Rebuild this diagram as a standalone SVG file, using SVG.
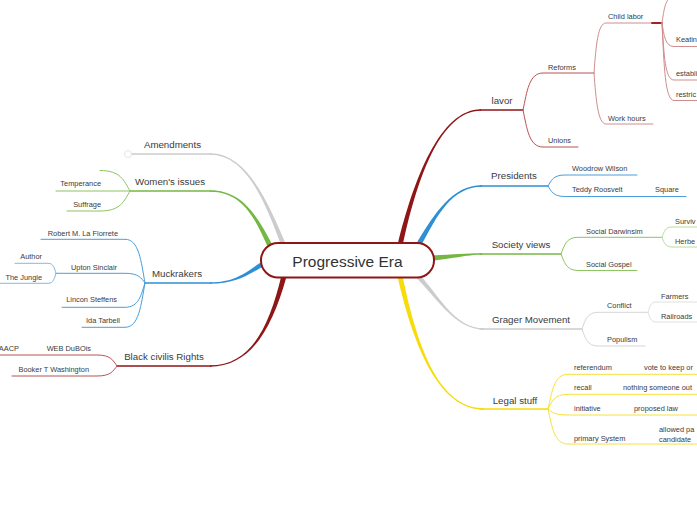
<svg xmlns="http://www.w3.org/2000/svg" width="697" height="520" viewBox="0 0 697 520">
<style>
text{font-family:"Liberation Sans","DejaVu Sans",sans-serif;fill:#3a3a3a}
.t1{font-size:9.7px;text-anchor:middle}
.t2{font-size:7.4px}
.e{text-anchor:end}
.c{fill:none;stroke-linecap:round}
.u1{stroke-width:1.4}
.u2{stroke-width:1}
.red1{stroke:#8e1616}.red2{stroke:#b85252}.red3{stroke:#cf8e8e}
.blue1{stroke:#2f8fd5}.blue2{stroke:#4a9edb}.blue3{stroke:#7db9e6}
.green1{stroke:#74b843}.green2{stroke:#8ec462}.green3{stroke:#b8dc9c}
.gray1{stroke:#cccccc}.gray2{stroke:#d6d6d6}.gray3{stroke:#e0e0e0}
.yel1{stroke:#f5dc0a}.yel2{stroke:#f7e03a}
</style>
<rect width="697" height="520" fill="#ffffff"/>
<g id="connectors">
  <!-- main tapered branches -->
  <path fill="#8e1616" d="M397.5,245.4 C413.5,179.7 440,109.3 481,109.3 L481,110.7 C440,110.7 416.5,180.3 402.5,246.6 Z"/>
  <path fill="#2f8fd5" d="M415.7,244.7 C434.7,213.3 452,185.3 482,185.3 L482,186.7 C452,186.7 437.3,214.7 420.3,247.3 Z"/>
  <path fill="#74b843" d="M432,255.4 C455,254.5 465,253.3 482,253.3 L482,254.7 C465,254.7 455,258.5 432,260.6 Z"/>
  <path fill="#cccccc" d="M419.8,274.4 C441,299 456,328.3 484,328.3 L484,329.7 C456,329.7 439,301 416.2,277.6 Z"/>
  <path fill="#f5dc0a" d="M402.5,275.5 C417.5,349.7 440,408.3 484,408.3 L484,409.7 C440,409.7 414.5,350.3 397.5,276.5 Z"/>
  <path fill="#cccccc" d="M286.2,245.1 C267.3,199.5 246,153.3 210,153.3 L210,154.7 C246,154.7 264.7,200.5 281.8,246.9 Z"/>
  <path fill="#74b843" d="M273.4,246.9 C257.4,215.4 242,190.3 210,190.3 L210,191.7 C242,191.7 254.6,216.6 268.6,249.1 Z"/>
  <path fill="#2f8fd5" d="M264.7,259.8 C245.2,272.7 236,282.3 210,282.3 L210,283.7 C236,283.7 246.8,275.3 267.3,264.2 Z"/>
  <path fill="#8e1616" d="M281.5,275.3 C268.5,329.6 250,365.3 210,365.3 L210,366.7 C250,366.7 271.5,330.4 286.5,276.7 Z"/>
  <!-- level-1 underlines -->
  <path class="c u1 red1" d="M480,110 L523,110"/>
  <path class="c u1 blue1" d="M480,186 L548,186"/>
  <path class="c u1 green1" d="M480,254 L561,254"/>
  <path class="c u1 gray1" d="M480,329 L582,329"/>
  <path class="c u1 yel1" d="M480,409 L548,409"/>
  <path class="c u1 gray1" d="M132,154 L211,154"/>
  <path class="c u1 green1" d="M130,191 L211,191"/>
  <path class="c u1 blue1" d="M145,283 L211,283"/>
  <path class="c u1 red1" d="M117,366 L211,366"/>
  <!-- lavor -->
  <path class="c u2 red2" d="M523,110 C527,91.5 529,73 543,73 L594,73"/>
  <path class="c u2 red2" d="M523,110 C527,128.5 529,147 543,147 L578,147"/>
  <path class="c u2 red3" d="M594,73 C596,45 598,23 606,23 L652,23"/>
  <path class="c u2 red3" d="M594,73 C596,100 598,124 606,124 L653,124"/>
  <path class="c" stroke="#a32222" stroke-width="1.8" d="M652,23 L662,23"/>
  <path class="c u2 red3" d="M662,23 C664,10 665,-3 674,-3 L697,-3"/>
  <path class="c u2 red3" d="M662,23 C664,35 665,46.5 674,46.5 L697,46.5"/>
  <path class="c u2 red3" d="M662,23 C664,55 665,80 674,80 L697,80"/>
  <path class="c u2 red3" d="M662,23 C664,65 665,100.5 674,100.5 L697,100.5"/>
  <!-- presidents -->
  <path class="c u2 blue2" d="M548,186 C551.4,180.5 553,175 565,175 L637,175"/>
  <path class="c u2 blue2" d="M548,186 C551.4,191.2 553,196.5 565,196.5 L686,196.5"/>
  <!-- society views -->
  <path class="c u2 green2" d="M561,254 C564.4,245.5 566,237.3 578,237.3 L662,237.3"/>
  <path class="c u2 green2" d="M561,254 C564.4,262 566,270.5 578,270.5 L637,270.5"/>
  <path class="c u2 green3" d="M662,237.3 C664,232 665,227 672,227 L697,227"/>
  <path class="c u2 green3" d="M662,237.3 C664,242 665,247 672,247 L697,247"/>
  <!-- grager -->
  <path class="c u2 gray2" d="M582,329 C585,320.5 587,312.3 598,312.3 L648,312.3"/>
  <path class="c u2 gray2" d="M582,329 C585,337.5 587,346 598,346 L645,346"/>
  <path class="c u2 gray3" d="M648,312.3 C649.6,307 650.5,302 656,302 L697,302"/>
  <path class="c u2 gray3" d="M648,312.3 C649.6,317 650.5,322 656,322 L697,322"/>
  <!-- legal stuff -->
  <path class="c u2 yel2" d="M548,409 C552,391.6 554,374.3 568,374.3 L697,374.3"/>
  <path class="c u2 yel2" d="M548,409 C552,401.6 554,394.3 568,394.3 L697,394.3"/>
  <path class="c u2 yel2" d="M548,409 C552,412 554,415 568,415 L697,415"/>
  <path class="c u2 yel2" d="M548,409 C552,426.5 554,444 568,444 L697,444"/>
  <!-- women's issues -->
  <path class="c u2 green2" d="M130,191 C124,180.7 121,170.5 100,170.5"/>
  <path class="c u2 green2" d="M130,191 L56,191"/>
  <path class="c u2 green2" d="M130,191 C124,201 121,211 100,211 L67,211"/>
  <!-- muckrakers -->
  <path class="c u2 blue2" d="M145,283 C141,261 139,239.3 125,239.3 L41,239.3"/>
  <path class="c u2 blue2" d="M145,283 C141,278 139,273.3 125,273.3 L56,273.3"/>
  <path class="c u2 blue2" d="M145,283 C141,295 139,307.3 125,307.3 L62,307.3"/>
  <path class="c u2 blue2" d="M145,283 C141,305 139,327.3 125,327.3 L82,327.3"/>
  <path class="c u2 blue3" d="M56,273.3 C54.4,268.3 53.6,263.3 48,263.3 L15,263.3"/>
  <path class="c u2 blue3" d="M56,273.3 C54.4,278.3 53.6,283.3 48,283.3 L0,283.3"/>
  <!-- black civilis rights -->
  <path class="c u2 red2" d="M117,366 C113,360.5 111,355 97,355 L0,355"/>
  <path class="c u2 red2" d="M117,366 C113,371 111,376 97,376 L12,376"/>
</g>
<g id="central">
  <rect x="261" y="243" width="173" height="34.5" rx="17" fill="#ffffff" stroke="#8e1616" stroke-width="2"/>
  <text x="347.5" y="267" style="font-size:15.5px;text-anchor:middle;fill:#333">Progressive Era</text>
</g>
<g id="lavor"><text class="t1" x="502" y="104">lavor</text></g>
<g id="reforms"><text class="t2" x="548" y="69.5">Reforms</text></g>
<g id="unions"><text class="t2" x="548" y="143">Unions</text></g>
<g id="child-labor"><text class="t2" x="608" y="19">Child labor</text></g>
<g id="work-hours"><text class="t2" x="608" y="120.5">Work hours</text></g>
<g id="keatin"><text class="t2" x="676" y="42">Keatin</text></g>
<g id="establi"><text class="t2" x="676" y="76">establi</text></g>
<g id="restric"><text class="t2" x="676" y="96.5">restric</text></g>
<g id="presidents"><text class="t1" x="514" y="179">Presidents</text></g>
<g id="woodrow"><text class="t2" x="572" y="171">Woodrow Wilson</text></g>
<g id="teddy"><text class="t2" x="572" y="192">Teddy Roosvelt</text></g>
<g id="square"><text class="t2" x="655" y="192">Square</text></g>
<g id="society"><text class="t1" x="521" y="247.5">Society views</text></g>
<g id="darwinism"><text class="t2" x="586" y="233.5">Social Darwinsim</text></g>
<g id="gospel"><text class="t2" x="586" y="267">Social Gospel</text></g>
<g id="surviv"><text class="t2" x="675" y="223.5">Surviv</text></g>
<g id="herbe"><text class="t2" x="675" y="243.5">Herbe</text></g>
<g id="grager"><text class="t1" x="531" y="322.5">Grager Movement</text></g>
<g id="conflict"><text class="t2" x="607" y="308">Conflict</text></g>
<g id="populism"><text class="t2" x="607" y="342">Populism</text></g>
<g id="farmers"><text class="t2" x="661" y="299">Farmers</text></g>
<g id="railroads"><text class="t2" x="661" y="319">Railroads</text></g>
<g id="legal"><text class="t1" x="515" y="403.5">Legal stuff</text></g>
<g id="referendum"><text class="t2" x="574" y="370">referendum</text><text class="t2" x="644" y="370">vote to keep or</text></g>
<g id="recall"><text class="t2" x="574" y="390">recall</text><text class="t2" x="623" y="390">nothing someone out</text></g>
<g id="initiative"><text class="t2" x="574" y="411">initiative</text><text class="t2" x="634" y="411">proposed law</text></g>
<g id="primary"><text class="t2" x="574" y="441">primary System</text><text class="t2" x="659" y="432">allowed pa</text><text class="t2" x="659" y="441.5">candidate</text></g>
<g id="amendments"><circle cx="128" cy="154" r="3.5" fill="#ffffff" stroke="#dddddd" stroke-width="0.8"/><text class="t1" x="172.5" y="147.5">Amendments</text></g>
<g id="womens"><text class="t1" x="170" y="184.5">Women's issues</text></g>
<g id="temperance"><text class="t2 e" x="101" y="186">Temperance</text></g>
<g id="suffrage"><text class="t2 e" x="101" y="207">Suffrage</text></g>
<g id="muckrakers"><text class="t1" x="177" y="277">Muckrakers</text></g>
<g id="robert"><text class="t2 e" x="118" y="235.5">Robert M. La Florrete</text></g>
<g id="upton"><text class="t2 e" x="117" y="269.5">Upton Sinclair</text></g>
<g id="author"><text class="t2 e" x="42" y="258.5">Author</text></g>
<g id="jungle"><text class="t2 e" x="42" y="279.5">The Jungle</text></g>
<g id="lincon"><text class="t2 e" x="117" y="302">Lincon Steffens</text></g>
<g id="ida"><text class="t2 e" x="120" y="323">Ida Tarbell</text></g>
<g id="black"><text class="t1" x="164" y="359.5">Black civilis Rights</text></g>
<g id="web"><text class="t2 e" x="91" y="351">WEB DuBOis</text></g>
<g id="naacp"><text class="t2 e" x="19" y="351">AACP</text></g>
<g id="booker"><text class="t2 e" x="89" y="371.5">Booker T Washington</text></g>
</svg>
